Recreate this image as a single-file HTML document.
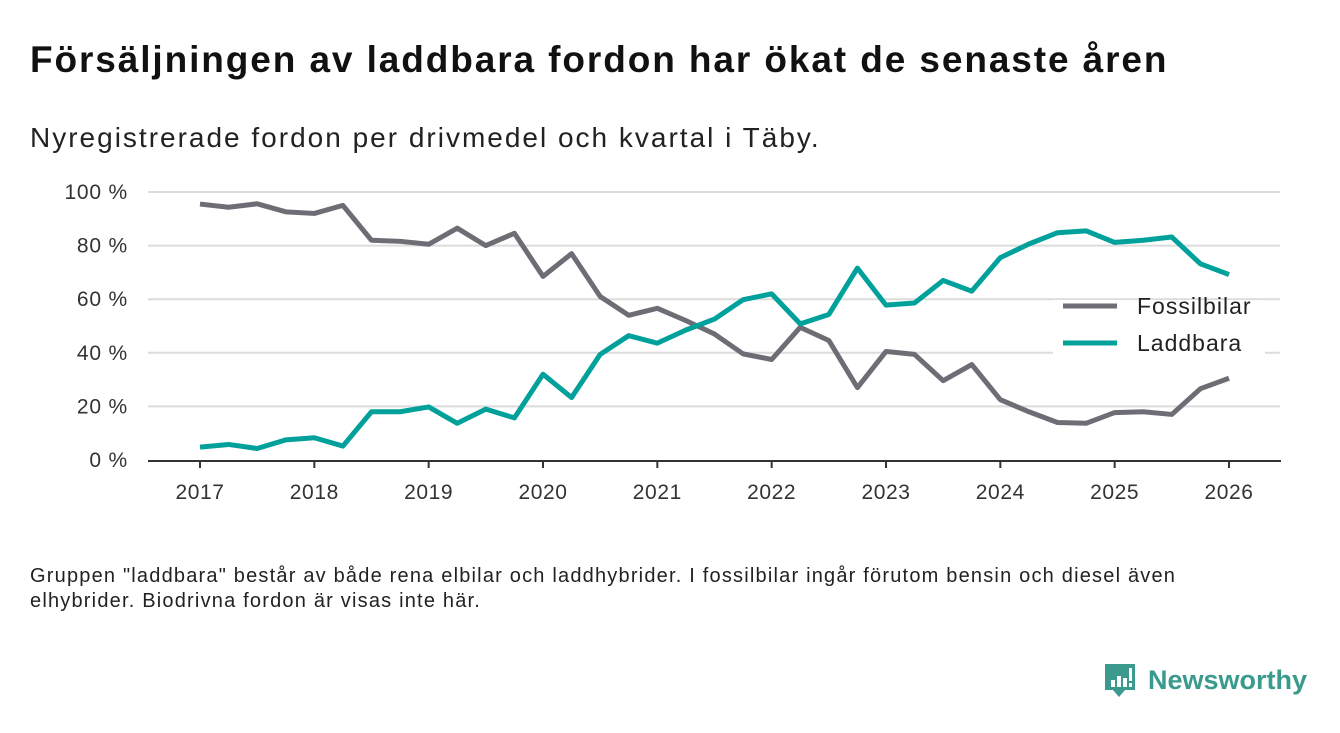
<!DOCTYPE html>
<html><head><meta charset="utf-8"><style>
body{margin:0;width:1340px;height:733px;background:#fff;font-family:"Liberation Sans","DejaVu Sans",sans-serif;overflow:hidden;position:relative}
.t{position:absolute;left:30px;top:39px;font-size:37px;font-weight:bold;color:#111;letter-spacing:1.9px;white-space:nowrap}
.s{position:absolute;left:30px;top:122px;font-size:28px;color:#222;letter-spacing:2px;white-space:nowrap}
.n{position:absolute;left:30px;top:564px;font-size:20px;color:#222;line-height:25px;width:1185px;letter-spacing:1.2px}
.logo{position:absolute;left:1103px;top:660px}
</style></head><body>
<div class="t">Försäljningen av laddbara fordon har ökat de senaste åren</div>
<div class="s">Nyregistrerade fordon per drivmedel och kvartal i Täby.</div>
<svg id="c" width="1340" height="733" style="position:absolute;left:0;top:0"></svg>
<div class="n">Gruppen "laddbara" består av både rena elbilar och laddhybrider. I fossilbilar ingår förutom bensin och diesel även<br>elhybrider. Biodrivna fordon är visas inte här.</div>
<div class="logo">
<svg width="210" height="44"><path d="M2 4h30v26h-10l-6 7-6-7H2z" fill="#3a9a8e"/><rect x="8" y="20" width="4" height="7" fill="#fff"/><rect x="14" y="16" width="4" height="11" fill="#fff"/><rect x="20" y="18" width="4" height="9" fill="#fff"/><rect x="26" y="8" width="3" height="13" fill="#fff"/><rect x="26" y="23" width="3" height="4" fill="#fff"/>
<text x="45" y="29" font-size="27" font-weight="bold" fill="#3a9a8e" font-family="Liberation Sans, sans-serif">Newsworthy</text></svg></div>
<script>
const years=["2017","2018","2019","2020","2021","2022","2023","2024","2025","2026"];
const yTicks=[0,20,40,60,80,100];
const fossil=[95.5,94.3,95.6,92.6,92,95,82,81.6,80.5,86.5,80,84.6,68.5,77,61,54,56.6,52,47,39.6,37.5,49.5,44.6,27,40.5,39.4,29.6,35.6,22.5,18,14,13.7,17.7,18,17,26.6,30.5];
const laddbara=[4.8,5.8,4.3,7.5,8.3,5.2,18,18,19.8,13.7,19,15.7,32,23.3,39.4,46.4,43.6,48.5,52.6,59.8,62,50.8,54.3,71.6,57.8,58.6,67,63,75.5,80.6,84.8,85.5,81.2,82,83.2,73.2,69.2];
const svg=document.getElementById('c');const NS="http://www.w3.org/2000/svg";
const X=i=>200+i*(1029/36);const Y=v=>460-v*2.68;
function mk(t,a){const e=document.createElementNS(NS,t);for(const k in a)e.setAttribute(k,a[k]);svg.appendChild(e);return e;}
yTicks.forEach(v=>{
 if(v>0){const g=mk('line',{x1:148,x2:1280,y1:Y(v),y2:Y(v),stroke:'#dcdcdc','stroke-width':2});
 
 }
 const t=mk('text',{x:128,y:Y(v)+7,'text-anchor':'end','font-size':21,'letter-spacing':0.8,fill:'#333'});t.textContent=v+' %';
 
 
});
const ax=mk('line',{x1:148,x2:1281,y1:461,y2:461,stroke:'#333','stroke-width':2});


years.forEach((y,i)=>{const x=X(i*4);
 const tk=mk('line',{x1:x,x2:x,y1:461,y2:468,stroke:'#333','stroke-width':2});
 
 
 const t=mk('text',{x:x,y:499,'text-anchor':'middle','font-size':21,'letter-spacing':0.6,fill:'#333'});t.textContent=y;
 
 
});
function line(d,col,name){const p=mk('polyline',{points:d.map((v,i)=>X(i)+','+Y(v)).join(' '),fill:'none',stroke:col,'stroke-width':5,'stroke-linejoin':'round'});
 
 }
line(fossil,'#6e6d75','fossilbilar-line');
line(laddbara,'#00a19a','laddbara-line');
const lb=mk('rect',{x:1053,y:300,width:212,height:66,fill:'#fff'});


[['Fossilbilar','#6e6d75',306],['Laddbara','#00a19a',343]].forEach(([n,c,y])=>{
 const l=mk('line',{x1:1063,x2:1117,y1:y,y2:y,stroke:c,'stroke-width':5});
 
 
 const t=mk('text',{x:1137,y:y+8,'font-size':23,'letter-spacing':1,fill:'#222'});t.textContent=n;
 
 
});
</script>
</body></html>
